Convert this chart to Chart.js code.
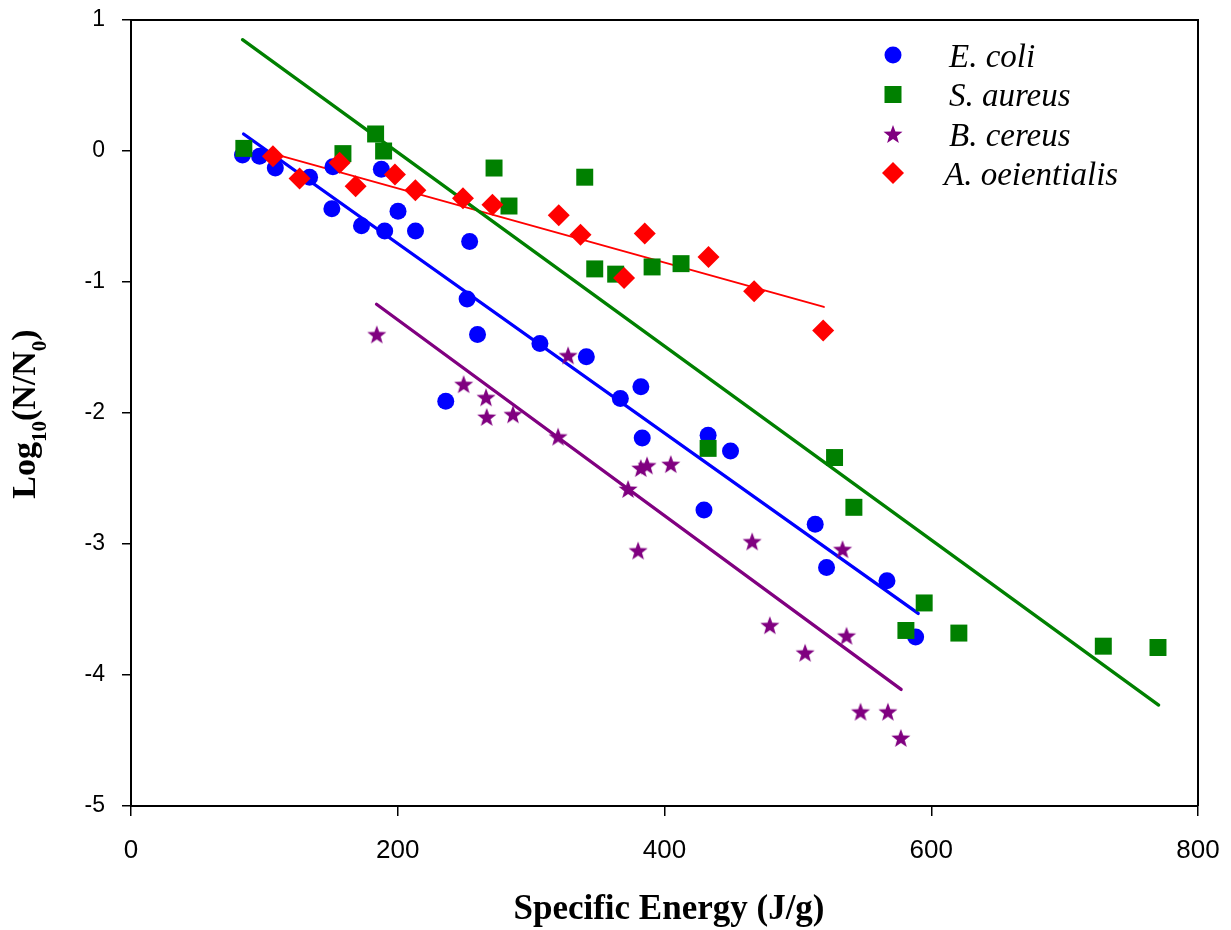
<!DOCTYPE html>
<html>
<head>
<meta charset="utf-8">
<script src="https://cdn.jsdelivr.net/npm/chart.js@4.4.1/dist/chart.umd.min.js"></script>
<style>
  html, body { margin: 0; padding: 0; background: #fff; }
  #wrap { width: 1231px; height: 930px; }
  canvas { display: block; }
</style>
</head>
<body>
<div id="wrap"><canvas id="c" width="1231" height="930" style="width:1231px;height:930px"></canvas></div>
<script>
// Specific energy (J/g) and log reduction for each organism
const energyEcoli = [83.6, 96.4, 108.2, 133.9, 150.6, 151.4, 172.8, 187.7, 190.2, 200.2, 213.3, 236.0, 252.0, 253.9, 259.8, 306.6, 341.4, 366.9, 382.3, 383.3, 429.6, 432.7, 449.5, 513.0, 521.5, 566.8, 588.3];
const logEcoli    = [-0.03, -0.04, -0.13, -0.20, -0.44, -0.12, -0.57, -0.14, -0.61, -0.46, -0.61, -1.91, -1.13, -0.69, -1.40, -1.47, -1.57, -1.89, -1.80, -2.19, -2.74, -2.17, -2.29, -2.85, -3.18, -3.28, -3.71];

const energyAureus = [84.6, 158.9, 183.4, 189.4, 272.2, 283.4, 340.2, 347.7, 363.4, 390.7, 412.4, 432.7, 527.5, 542.0, 581.0, 594.7, 620.7, 729.0, 770.0];
const logAureus    = [0.02, -0.02, 0.13, 0.00, -0.13, -0.42, -0.20, -0.90, -0.94, -0.885, -0.86, -2.27, -2.34, -2.72, -3.66, -3.45, -3.68, -3.78, -3.79];

const energyCereus = [184.3, 249.4, 266.2, 266.7, 286.4, 320.2, 327.7, 372.7, 380.2, 382.2, 386.9, 404.7, 465.7, 479.0, 505.4, 533.5, 536.5, 547.0, 567.5, 577.2];
const logCereus    = [-1.40, -1.78, -1.88, -2.03, -2.01, -2.18, -1.56, -2.58, -3.05, -2.42, -2.40, -2.39, -2.98, -3.62, -3.83, -3.04, -3.70, -4.28, -4.28, -4.48];

const energyOrient = [106.4, 126.4, 156.4, 168.4, 197.9, 213.2, 248.9, 271.0, 320.7, 337.0, 369.7, 385.2, 433.0, 467.2, 519.0];
const logOrient    = [-0.04, -0.21, -0.09, -0.27, -0.18, -0.30, -0.36, -0.41, -0.49, -0.64, -0.97, -0.63, -0.81, -1.07, -1.37];

// Regression line end points (energy, log reduction)
const fitEcoliX  = [84.4, 590.2],  fitEcoliY  = [0.13, -3.53];
const fitAureusX = [83.6, 770.5],  fitAureusY = [0.85, -4.23];
const fitCereusX = [184.1, 577.4], fitCereusY = [-1.17, -4.11];
const fitOrientX = [106.4, 519.5], fitOrientY = [-0.02, -1.19];

const seriesNames = ['E. coli', 'S. aureus', 'B. cereus', 'A. oeientialis'];
const xTicks = [0, 200, 400, 600, 800];
const yTicks = [1, 0, -1, -2, -3, -4, -5];

const BLUE = '#0000ff', GREEN = '#008000', PURPLE = '#800080', RED = '#ff0000';

function pairs(xs, ys) { return xs.map((x, i) => ({ x: x, y: ys[i] })); }

// Filled five-pointed star used as a point marker
function makeStar(color, R, r) {
  const s = Math.ceil(2 * R + 2);
  const cv = document.createElement('canvas');
  cv.width = s; cv.height = s;
  const g = cv.getContext('2d');
  g.translate(s / 2, s / 2 + R * 0.09);
  g.beginPath();
  for (let i = 0; i < 10; i++) {
    const rad = (i % 2 === 0) ? R : r;
    const a = -Math.PI / 2 + i * Math.PI / 5;
    const px = rad * Math.cos(a), py = rad * Math.sin(a);
    if (i === 0) g.moveTo(px, py); else g.lineTo(px, py);
  }
  g.closePath();
  g.fillStyle = color;
  g.fill();
  return cv;
}
const starImg = makeStar(PURPLE, 10, 4.1);

function scatterSet(label, xs, ys, color, style, radius, order) {
  return {
    type: 'scatter', label: label, data: pairs(xs, ys),
    pointStyle: style, pointRadius: radius, pointHoverRadius: radius,
    backgroundColor: color, borderColor: color, borderWidth: 0,
    order: order, clip: false
  };
}
function fitSet(xs, ys, color, width) {
  return {
    type: 'line', data: pairs(xs, ys), borderColor: color, borderWidth: width,
    pointRadius: 0, fill: false, tension: 0, order: 10, borderCapStyle: 'round'
  };
}

// Frame, axis titles and legend
const decor = {
  id: 'decor',
  afterDraw(chart) {
    const ctx = chart.ctx, a = chart.chartArea;
    ctx.save();
    ctx.strokeStyle = '#000';
    ctx.lineWidth = 2;
    ctx.beginPath();
    ctx.moveTo(a.left, a.top);
    ctx.lineTo(a.right, a.top);
    ctx.lineTo(a.right, a.bottom);
    ctx.stroke();

    ctx.fillStyle = '#000';
    // x axis title
    ctx.font = 'bold 35px "Liberation Serif"';
    ctx.textAlign = 'center';
    ctx.textBaseline = 'alphabetic';
    ctx.fillText('Specific Energy (J/g)', 669, 919);

    // y axis title with subscripts
    const big = 'bold 34px "Liberation Serif"', small = 'bold 21px "Liberation Serif"';
    const parts = [['Log', big, 0], ['10', small, 11], ['(N/N', big, 0], ['0', small, 11], [')', big, 0]];
    let total = 0;
    parts.forEach(p => { ctx.font = p[1]; total += ctx.measureText(p[0]).width; });
    ctx.translate(35, 414);
    ctx.rotate(-Math.PI / 2);
    ctx.textAlign = 'left';
    let cx = -total / 2;
    parts.forEach(p => { ctx.font = p[1]; ctx.fillText(p[0], cx, p[2]); cx += ctx.measureText(p[0]).width; });
    ctx.restore();

    // legend
    ctx.save();
    const rows = [55, 94.5, 134, 173];
    const mx = 893, tx = 949;
    ctx.font = 'italic 33px "Liberation Serif"';
    ctx.fillStyle = '#000';
    ctx.textAlign = 'left';
    ctx.textBaseline = 'alphabetic';
    seriesNames.forEach((name, i) => {
      const y = rows[i];
      if (i === 0) {
        ctx.fillStyle = BLUE; ctx.beginPath(); ctx.arc(mx, y, 8.5, 0, Math.PI * 2); ctx.fill();
      } else if (i === 1) {
        ctx.fillStyle = GREEN; ctx.fillRect(mx - 8.5, y - 8.5, 17, 17);
      } else if (i === 2) {
        ctx.drawImage(starImg, mx - starImg.width / 2, y - starImg.height / 2);
      } else {
        ctx.fillStyle = RED; ctx.beginPath();
        ctx.moveTo(mx, y - 11); ctx.lineTo(mx + 11, y); ctx.lineTo(mx, y + 11); ctx.lineTo(mx - 11, y);
        ctx.closePath(); ctx.fill();
      }
      ctx.fillStyle = '#000';
      ctx.fillText(name, i === 3 ? tx - 5 : tx, y + 11.5);
    });
    ctx.restore();
  }
};

const chart = new Chart(document.getElementById('c'), {
  type: 'scatter',
  data: {
    datasets: [
      fitSet(fitAureusX, fitAureusY, GREEN, 3.3),
      fitSet(fitEcoliX, fitEcoliY, BLUE, 3.3),
      fitSet(fitCereusX, fitCereusY, PURPLE, 3.3),
      fitSet(fitOrientX, fitOrientY, RED, 2),
      scatterSet(seriesNames[0], energyEcoli, logEcoli, BLUE, 'circle', 8.5, 4),
      scatterSet(seriesNames[1], energyAureus, logAureus, GREEN, 'rect', 12, 3),
      scatterSet(seriesNames[2], energyCereus, logCereus, PURPLE, starImg, 10, 2),
      scatterSet(seriesNames[3], energyOrient, logOrient, RED, 'rectRot', 11, 1)
    ]
  },
  options: {
    responsive: false,
    animation: false,
    devicePixelRatio: 1,
    layout: { padding: { top: 20, right: 33, left: 0, bottom: 0 } },
    plugins: { legend: { display: false }, tooltip: { enabled: false } },
    scales: {
      x: {
        type: 'linear', min: 0, max: 800,
        afterFit(s) { s.height = 124; s.paddingLeft = 0; s.paddingRight = 0; },
        afterBuildTicks(s) { s.ticks = xTicks.map(v => ({ value: v })); },
        grid: { display: true, drawOnChartArea: false, drawTicks: true, tickLength: 10, color: '#000', lineWidth: 1.5 },
        border: { display: true, color: '#000', width: 2 },
        ticks: { color: '#000', padding: 19, maxRotation: 0, font: { family: '"Liberation Sans"', size: 26 } }
      },
      y: {
        type: 'linear', min: -5, max: 1,
        afterFit(s) { s.width = 131; s.paddingTop = 0; s.paddingBottom = 0; },
        afterBuildTicks(s) { s.ticks = yTicks.map(v => ({ value: v })); },
        grid: { display: true, drawOnChartArea: false, drawTicks: true, tickLength: 9, color: '#000', lineWidth: 1.5 },
        border: { display: true, color: '#000', width: 2 },
        ticks: { color: '#000', padding: 17, font: { family: '"Liberation Sans"', size: 23 } }
      }
    }
  },
  plugins: [decor]
});
</script>
</body>
</html>
